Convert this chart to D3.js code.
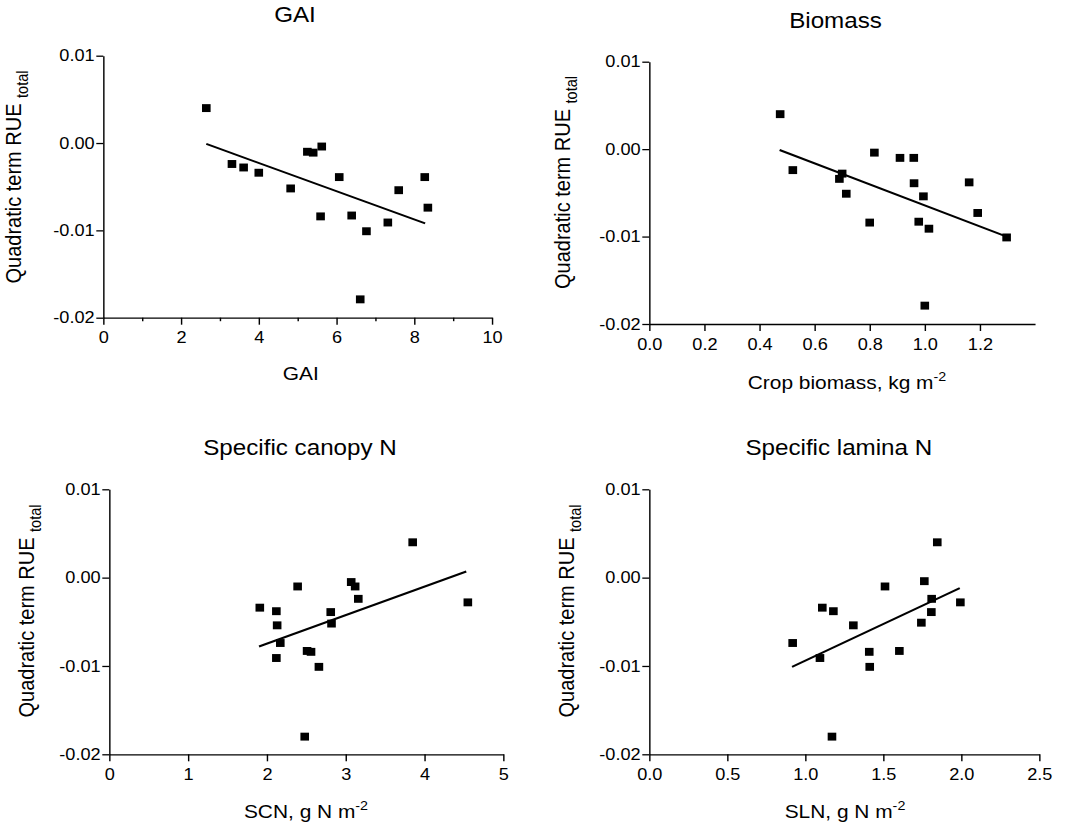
<!DOCTYPE html>
<html>
<head>
<meta charset="utf-8">
<script src="https://cdn.jsdelivr.net/npm/d3@7"></script>
<style>
  body { margin: 0; background: #fff; }
  svg { display: block; font-family: "Liberation Sans", Arial, sans-serif; }
</style>
</head>
<body>
<script>
'use strict';

// GAI panel
let gaiX = [2.65, 3.31, 3.61, 4.00, 4.82, 5.25, 5.40, 5.62, 5.59, 6.07, 6.39, 6.77, 6.61, 7.32, 7.60, 8.27, 8.35];
let gaiY = [0.0040, -0.0024, -0.0028, -0.0034, -0.0052, -0.0010, -0.0011, -0.0004, -0.0084, -0.0039, -0.0083, -0.0101, -0.0179, -0.0091, -0.0054, -0.0039, -0.0074];
let gaiFitX = [2.65, 8.28];
let gaiFitY = [-0.0001, -0.0092];
let gaiTicks = [0, 2, 4, 6, 8, 10];
let gaiMinor = [1, 3, 5, 7, 9];

// Biomass panel
let bioX = [0.475, 0.521, 0.690, 0.700, 0.715, 0.800, 0.817, 0.910, 0.960, 0.961, 0.995, 0.978, 1.015, 1.000, 1.161, 1.192, 1.297];
let bioY = [0.0040, -0.0024, -0.0034, -0.0028, -0.0051, -0.0084, -0.0004, -0.0010, -0.0010, -0.0039, -0.0054, -0.0083, -0.0091, -0.0179, -0.0038, -0.0073, -0.0101];
let bioFitX = [0.473, 1.297];
let bioFitY = [-0.0001, -0.0100];
let bioTicks = [0, 0.2, 0.4, 0.6, 0.8, 1.0, 1.2];

// Specific canopy N panel
let scnX = [1.91, 2.12, 2.13, 2.17, 2.12, 2.39, 2.51, 2.56, 2.66, 2.48, 2.81, 2.82, 3.07, 3.12, 3.16, 3.85, 4.55];
let scnY = [-0.0034, -0.0038, -0.0054, -0.0074, -0.0091, -0.0010, -0.0083, -0.0084, -0.0101, -0.0180, -0.0039, -0.0052, -0.0005, -0.0010, -0.0024, 0.0040, -0.0028];
let scnFitX = [1.90, 4.53];
let scnFitY = [-0.0078, 0.0007];
let scnTicks = [0, 1, 2, 3, 4, 5];

// Specific lamina N panel
let slnX = [0.919, 1.094, 1.109, 1.180, 1.171, 1.308, 1.410, 1.413, 1.511, 1.603, 1.744, 1.763, 1.810, 1.808, 1.846, 1.994];
let slnY = [-0.0074, -0.0091, -0.0034, -0.0038, -0.0180, -0.0054, -0.0084, -0.0101, -0.0010, -0.0083, -0.0051, -0.0004, -0.0024, -0.0039, 0.0040, -0.0028];
let slnFitX = [0.915, 1.99];
let slnFitY = [-0.0101, -0.0012];
let slnTicks = [0, 0.5, 1.0, 1.5, 2.0, 2.5];

let yTicks = [0.01, 0, -0.01, -0.02];
let yLabels = ['0.01', '0.00', '-0.01', '-0.02'];

// the picture is a little wider than it is tall, so everything is stretched sideways
const SX = 1.1;
const fx = (v) => v / SX;

let svgContainer = '';

window.onload = function() {

    svgContainer = d3.select('body')
        .append('svg')
        .attr('width', 1065)
        .attr('height', 830)
        .attr('viewBox', '0 0 ' + (1065 / SX) + ' 830')
        .attr('preserveAspectRatio', 'none');

    makePanel({
        xs: gaiX, ys: gaiY, fitX: gaiFitX, fitY: gaiFitY,
        xDomain: [0, 10], ticks: gaiTicks, minor: gaiMinor, fmt: d3.format('d'),
        left: 103.3, right: 492, top: 55.7, bottom: 317.7,
        title: 'GAI', titlePos: [295, 22],
        xLabel: 'GAI', xSup: null, xLabelPos: [300.7, 380],
        yLabelPos: [21, 177]
    });

    makePanel({
        xs: bioX, ys: bioY, fitX: bioFitX, fitY: bioFitY,
        xDomain: [0, 1.4], ticks: bioTicks, minor: null, fmt: d3.format('.1f'),
        left: 649.3, right: 1035, top: 61.7, bottom: 324,
        title: 'Biomass', titlePos: [835.5, 28],
        xLabel: 'Crop biomass, kg m', xSup: '-2', xLabelPos: [847, 389],
        yLabelPos: [570, 182.5]
    });

    makePanel({
        xs: scnX, ys: scnY, fitX: scnFitX, fitY: scnFitY,
        xDomain: [0, 5], ticks: scnTicks, minor: null, fmt: d3.format('d'),
        left: 109.3, right: 503.3, top: 489.3, bottom: 754.3,
        title: 'Specific canopy N', titlePos: [300, 455],
        xLabel: 'SCN, g N m', xSup: '-2', xLabelPos: [306, 818],
        yLabelPos: [34, 611]
    });

    makePanel({
        xs: slnX, ys: slnY, fitX: slnFitX, fitY: slnFitY,
        xDomain: [0, 2.5], ticks: slnTicks, minor: null, fmt: d3.format('.1f'),
        left: 649.3, right: 1039.3, top: 489.3, bottom: 754.3,
        title: 'Specific lamina N', titlePos: [838.8, 455],
        xLabel: 'SLN, g N m', xSup: '-2', xLabelPos: [845, 818],
        yLabelPos: [574, 611]
    });
}

function makePanel(p) {

    let xScale = d3.scaleLinear()
        .domain(p.xDomain)
        .range([fx(p.left), fx(p.right)]);

    let yScale = d3.scaleLinear()
        .domain([-0.02, 0.01])
        .range([p.bottom, p.top]);

    let g = svgContainer.append('g');

    // x axis
    let xAxis = d3.axisBottom(xScale)
        .tickValues(p.ticks)
        .tickFormat(p.fmt)
        .tickSize(7)
        .tickSizeOuter(0)
        .tickPadding(7);
    let xg = g.append('g')
        .attr('transform', 'translate(0, ' + p.bottom + ')')
        .call(xAxis);
    styleAxis(xg);

    if (p.minor) {
        let minorAxis = d3.axisBottom(xScale)
            .tickValues(p.minor)
            .tickFormat('')
            .tickSize(3.5)
            .tickSizeOuter(0);
        let mg = g.append('g')
            .attr('transform', 'translate(0, ' + p.bottom + ')')
            .call(minorAxis);
        mg.select('.domain').remove();
        mg.selectAll('line').attr('stroke', '#000').attr('stroke-width', 1.3);
    }

    // y axis
    let yAxis = d3.axisLeft(yScale)
        .tickValues(yTicks)
        .tickFormat((d, i) => yLabels[i])
        .tickSize(fx(7))
        .tickSizeOuter(0)
        .tickPadding(1.5);
    let yg = g.append('g')
        .attr('transform', 'translate(' + fx(p.left) + ', 0)')
        .call(yAxis);
    styleAxis(yg);

    // fitted line
    let fit = p.fitX.map((x, i) => [x, p.fitY[i]]);
    g.append('path')
        .datum(fit)
        .attr('fill', 'none')
        .attr('stroke', '#000')
        .attr('stroke-width', 2)
        .attr('d', d3.line()
            .x((d) => xScale(d[0]))
            .y((d) => yScale(d[1])));

    // points
    let pts = p.xs.map((x, i) => [x, p.ys[i]]);
    let w = fx(8.6);
    let h = 7.9;
    g.selectAll('rect.pt')
        .data(pts)
        .enter()
        .append('rect')
            .attr('class', 'pt')
            .attr('x', (d) => xScale(d[0]) - w / 2)
            .attr('y', (d) => yScale(d[1]) - h / 2)
            .attr('width', w)
            .attr('height', h)
            .attr('fill', '#000');

    // title
    g.append('text')
        .attr('x', fx(p.titlePos[0]))
        .attr('y', p.titlePos[1])
        .attr('text-anchor', 'middle')
        .style('font-size', '22px')
        .text(p.title);

    // x label
    let xl = g.append('text')
        .attr('x', fx(p.xLabelPos[0]))
        .attr('y', p.xLabelPos[1])
        .attr('text-anchor', 'middle')
        .style('font-size', '19px');
    xl.append('tspan').text(p.xLabel);
    if (p.xSup) {
        xl.append('tspan')
            .attr('dy', -8)
            .style('font-size', '13px')
            .text(p.xSup);
    }

    // y label
    let yl = g.append('text')
        .attr('transform', 'translate(' + fx(p.yLabelPos[0]) + ', ' + p.yLabelPos[1] + ') rotate(-90)')
        .attr('text-anchor', 'middle')
        .style('font-size', '20px');
    yl.append('tspan').text('Quadratic term RUE ');
    yl.append('tspan')
        .attr('dy', 6)
        .style('font-size', '14.5px')
        .text('total');
}

function styleAxis(ax) {
    ax.attr('font-family', null).attr('font-size', null);
    ax.select('.domain').attr('stroke', '#000').attr('stroke-width', 1.3);
    ax.selectAll('.tick line').attr('stroke', '#000').attr('stroke-width', 1.3);
    ax.selectAll('.tick text')
        .attr('fill', '#000')
        .style('font-size', '16.5px');
}
</script>
</body>
</html>
